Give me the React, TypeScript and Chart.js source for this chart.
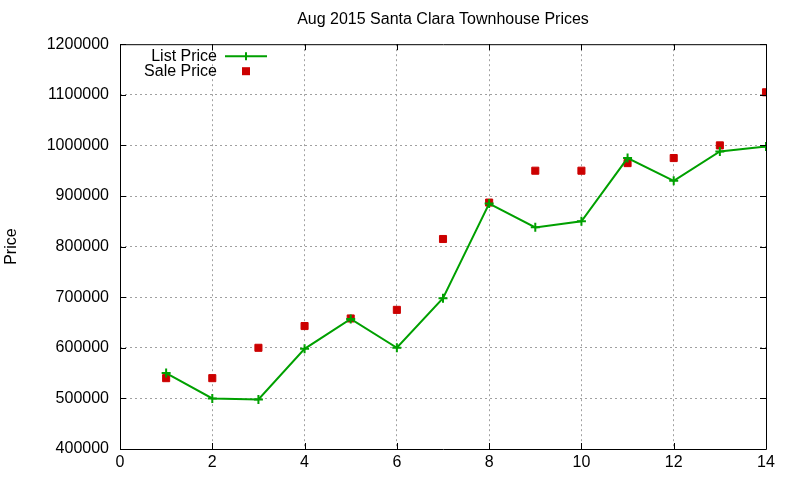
import { useEffect, useRef } from "react"
import { Chart, registerables } from "chart.js"

Chart.register(...registerables)

const titleText = "Aug 2015 Santa Clara Townhouse Prices"
const months = [1, 2, 3, 4, 5, 6, 7, 8, 9, 10, 11, 12, 13, 14]
const listPrice = [
  550000, 500000, 498000, 598000, 657000, 600000, 698000, 885000, 838000, 850000, 975000, 930000,
  988000, 998000,
]
const salePrice = [
  540000, 540000, 600000, 643000, 658000, 675000, 815000, 887000, 950000, 950000, 965000, 975000,
  1000000, 1105000,
]
const seriesNames = ["List Price", "Sale Price"]

const GREEN = "#00a000"
const RED = "#cc0000"
const FONT = "'Liberation Sans', Arial, sans-serif"

// gnuplot-like frame: full border, inward ticks mirrored on all sides, and a key top-left
const framePlugin = {
  id: "frame",
  afterDraw(chart: Chart) {
    const { ctx, chartArea: a } = chart
    const xs = chart.scales.x
    const ys = chart.scales.y
    ctx.save()
    ctx.strokeStyle = "#000"
    ctx.lineWidth = 1
    ctx.beginPath()
    ctx.rect(a.left + 0.5, a.top + 0.5, a.right - a.left, a.bottom - a.top)
    ctx.stroke()

    const len = 6
    ctx.beginPath()
    xs.ticks.forEach((t) => {
      const px = Math.round(xs.getPixelForValue(t.value)) + 0.5
      ctx.moveTo(px, a.bottom)
      ctx.lineTo(px, a.bottom - len)
      ctx.moveTo(px, a.top)
      ctx.lineTo(px, a.top + len)
    })
    ys.ticks.forEach((t) => {
      const py = Math.round(ys.getPixelForValue(t.value)) + 0.5
      ctx.moveTo(a.left, py)
      ctx.lineTo(a.left + len, py)
      ctx.moveTo(a.right, py)
      ctx.lineTo(a.right - len, py)
    })
    ctx.stroke()

    // key
    const textRight = a.left + 97
    const sx0 = a.left + 105
    const sx1 = a.left + 147
    const mid = (sx0 + sx1) / 2
    const row1 = a.top + 12
    const row2 = a.top + 27
    ctx.font = "16px " + FONT
    ctx.fillStyle = "#000"
    ctx.textAlign = "right"
    ctx.textBaseline = "middle"
    ctx.fillText(seriesNames[0], textRight, row1)
    ctx.fillText(seriesNames[1], textRight, row2)

    ctx.strokeStyle = GREEN
    ctx.lineWidth = 2
    ctx.beginPath()
    ctx.moveTo(sx0, row1)
    ctx.lineTo(sx1, row1)
    ctx.moveTo(mid, row1 - 4)
    ctx.lineTo(mid, row1 + 4)
    ctx.stroke()

    ctx.fillStyle = RED
    ctx.fillRect(mid - 4, row2 - 4, 8, 8)
    ctx.restore()
  },
}

export default function App() {
  const chartRef = useRef<HTMLCanvasElement>(null)
  const chartInstance = useRef<Chart | null>(null)

  useEffect(() => {
    if (!chartRef.current) return
    if (chartInstance.current) chartInstance.current.destroy()

    Chart.defaults.font.family = FONT
    Chart.defaults.color = "#000"

    const gridColor = (ctx: any) => {
      const v = ctx.tick ? ctx.tick.value : null
      const s = ctx.scale
      if (v === s.min || v === s.max) return "rgba(0,0,0,0)"
      return "#a0a0a0"
    }

    chartInstance.current = new Chart(chartRef.current, {
      type: "line",
      data: {
        datasets: [
          {
            label: seriesNames[0],
            data: months.map((m, i) => ({ x: m, y: listPrice[i] })),
            borderColor: GREEN,
            backgroundColor: GREEN,
            borderWidth: 2,
            pointStyle: "cross",
            pointRadius: 4.5,
            pointBorderWidth: 2,
            tension: 0,
          },
          {
            label: seriesNames[1],
            data: months.map((m, i) => ({ x: m, y: salePrice[i] })),
            borderColor: RED,
            backgroundColor: RED,
            showLine: false,
            pointStyle: "rect",
            pointRadius: 5,
            pointBorderWidth: 1,
          },
        ],
      },
      options: {
        responsive: true,
        maintainAspectRatio: false,
        animation: false,
        layout: { padding: { right: 34, bottom: 0, top: 0, left: 0 } },
        plugins: {
          legend: { display: false },
          tooltip: { enabled: false },
          title: {
            display: true,
            text: titleText,
            fullSize: false,
            font: { size: 16, weight: "normal" },
            color: "#000",
            padding: { top: 10, bottom: 15 },
          },
        },
        scales: {
          x: {
            type: "linear",
            min: 0,
            max: 14,
            ticks: { stepSize: 2, font: { size: 16 }, padding: 4, color: "#000", maxRotation: 0 },
            grid: { color: gridColor, drawTicks: false },
            border: { display: false, dash: [2, 3] },
            afterFit: (scale: any) => {
              scale.height = 31
            },
          },
          y: {
            min: 400000,
            max: 1200000,
            ticks: {
              stepSize: 100000,
              font: { size: 16 },
              padding: 11,
              color: "#000",
              callback: (v: any) => String(v),
            },
            grid: { color: gridColor, drawTicks: false },
            border: { display: false, dash: [2, 3] },
            title: {
              display: true,
              text: "Price",
              font: { size: 16 },
              color: "#000",
              padding: { top: 2, bottom: 0 },
            },
            afterFit: (scale: any) => {
              scale.width = 120
            },
          },
        },
      },
      plugins: [framePlugin],
    })

    return () => {
      if (chartInstance.current) {
        chartInstance.current.destroy()
        chartInstance.current = null
      }
    }
  }, [])

  return (
    <div style={{ position: "absolute", left: 0, top: 0, width: 800, height: 480, background: "#fff" }}>
      <canvas ref={chartRef} />
    </div>
  )
}
